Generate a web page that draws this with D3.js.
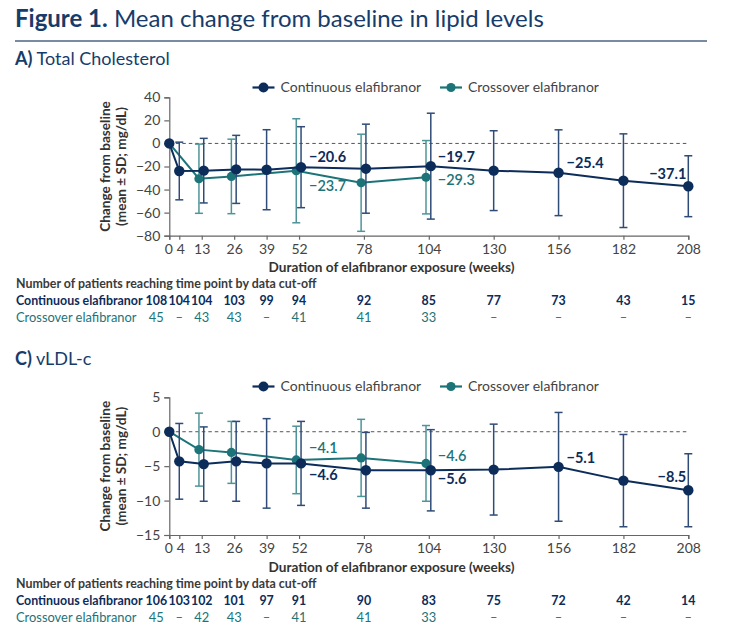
<!DOCTYPE html>
<html><head><meta charset="utf-8">
<script src="https://cdn.jsdelivr.net/npm/d3@7"></script>
<style>
body{margin:0;background:#fff;}
svg{font-family:Lato, "Open Sans", sans-serif;}
</style></head>
<body>
<svg id="c" width="733" height="633"></svg>
<script>
// ---------- DATA ----------
const weeks = [0,4,13,26,39,52,78,104,130,156,182,208];
const tickLabels = ["0","4","13","26","39","52","78","104","130","156","182","208"];

// A) Total cholesterol
const tcContWeeks = [0,4,13,26,39,52,78,104,130,156,182,208];
const tcContMean  = [0,-23.9,-23.6,-22.5,-22.8,-20.6,-21.9,-19.7,-23.6,-25.4,-32.3,-37.1];
const tcContSD    = [0,25.0,28.0,29.5,34.7,35.1,38.6,45.9,34.6,37.2,40.6,26.4];
const tcCrossWeeks = [0,13,26,52,78,104];
const tcCrossMean  = [0,-30.6,-28.6,-23.7,-34.1,-29.3];
const tcCrossSD    = [0,30.0,32.3,45.1,42.1,31.8];
const tcContN  = ["108","104","104","103","99","94","92","85","77","73","43","15"];
const tcCrossN = ["45","–","43","43","–","41","41","33","–","–","–","–"];

// C) vLDL-c
const vlContWeeks = [0,4,13,26,39,52,78,104,130,156,182,208];
const vlContMean  = [0,-4.3,-4.7,-4.3,-4.6,-4.6,-5.6,-5.6,-5.5,-5.1,-7.1,-8.5];
const vlContSD    = [0,5.5,5.4,5.8,6.5,6.1,5.5,5.9,6.6,7.9,6.7,5.3];
const vlCrossWeeks = [0,13,26,52,78,104];
const vlCrossMean  = [0,-2.6,-3.0,-4.1,-3.8,-4.6];
const vlCrossSD    = [0,5.3,4.5,4.9,5.6,5.5];
const vlContN  = ["106","103","102","101","97","91","90","83","75","72","42","14"];
const vlCrossN = ["45","–","42","43","–","41","41","33","–","–","–","–"];

const tcYTicks = [40,20,0,-20,-40,-60,-80];
const vlYTicks = [5,0,-5,-10,-15];

// annotations: [week, value, series]
const tcLabels = [[52,-20.6,"cont"],[52,-23.7,"cross"],[104,-19.7,"cont"],[104,-29.3,"cross"],[156,-25.4,"cont"],[208,-37.1,"cont"]];
const vlLabels = [[52,-4.1,"cross"],[52,-4.6,"cont"],[104,-4.6,"cross"],[104,-5.6,"cont"],[156,-5.1,"cont"],[208,-8.5,"cont"]];

// ---------- STYLE ----------
const NAVY = "#0c2c5a";
const NAVY_ERR = "#2f4c78";
const TEAL = "#1c7479";
const TEAL_ERR = "#4f9499";
const AXIS = "#666";
const TXT = "#444";

const svg = d3.select("#c");
const fmt = v => (v < 0 ? "\u2212" + Math.abs(v) : String(v));

// Title
const t = svg.append("text").attr("x",15).attr("y",27).attr("font-size",24).attr("fill","#173c6b");
t.append("tspan").attr("font-weight","bold").text("Figure 1.");
t.append("tspan").text(" Mean change from baseline in lipid levels");
svg.append("line").attr("x1",15).attr("x2",707).attr("y1",41).attr("y2",41).attr("stroke","#4a6585").attr("stroke-width",1.5);

const x = d3.scaleLinear().domain([0,208]).range([169.3,688.3]);

function panel(o){
  const y = d3.scaleLinear().domain(o.domain).range([o.y0,o.y1]);
  // heading
  const h = svg.append("text").attr("x",15).attr("y",o.headY).attr("font-size",18).attr("fill","#173c6b");
  h.append("tspan").attr("font-weight","bold").text(o.letter);
  h.append("tspan").text(" " + o.name);
  // legend
  const lg = svg.append("g").attr("transform",`translate(0,${o.legY})`);
  [[252.5,NAVY,"Continuous elafibranor",5],[440,TEAL,"Crossover elafibranor",4.6]].forEach(([lx,c,lab,r])=>{
    lg.append("line").attr("x1",lx).attr("x2",lx+22).attr("stroke",c).attr("stroke-width",2.2);
    lg.append("circle").attr("cx",lx+11).attr("r",r).attr("fill",c);
    lg.append("text").attr("x",lx+28).attr("dy","0.35em").attr("font-size",14).attr("fill",TXT).text(lab);
  });
  // axes
  const gy = svg.append("g").attr("transform",`translate(${x(0)},0)`)
    .call(d3.axisLeft(y).tickValues(o.yticks).tickSize(5).tickPadding(4).tickFormat(fmt));
  const gx = svg.append("g").attr("transform",`translate(0,${o.y0})`)
    .call(d3.axisBottom(x).tickValues(weeks).tickSize(4).tickPadding(4).tickFormat((d,i)=>tickLabels[i]));
  [gy,gx].forEach(g=>{
    g.select(".domain").attr("stroke",AXIS).attr("stroke-width",1.2);
    g.selectAll(".tick line").attr("stroke",AXIS).attr("stroke-width",1.2);
    g.selectAll("text").attr("font-size",14).attr("fill",TXT).attr("font-family","Lato");
  });
  gx.selectAll(".tick text").attr("dx",(d)=> d===0 ? -1 : (d===4 ? 1 : 0));
  // zero line
  svg.append("line").attr("x1",x(0)).attr("x2",x(208)).attr("y1",y(0)).attr("y2",y(0))
    .attr("stroke","#555").attr("stroke-dasharray","3.5,3").attr("stroke-width",1);
  // y label
  const yl = svg.append("text").attr("transform",`translate(0,${(o.y0+o.y1)/2}) rotate(-90)`)
    .attr("text-anchor","middle").attr("font-size",13.6).attr("font-weight","bold").attr("fill","#333");
  yl.append("tspan").attr("x",0).attr("y",110).text("Change from baseline");
  yl.append("tspan").attr("x",0).attr("y",125.5).text("(mean ± SD; mg/dL)");
  // x title
  svg.append("text").attr("x",391.5).attr("y",o.y0+36.5).attr("text-anchor","middle").attr("font-size",13.6)
    .attr("font-weight","bold").attr("fill","#333").text("Duration of elafibranor exposure (weeks)");

  // series
  const both = new Set(o.crossW);
  const series = [
    {w:o.crossW,m:o.crossM,s:o.crossS,c:TEAL,ce:TEAL_ERR,r:4.6,dx:-2.8},
    {w:o.contW,m:o.contM,s:o.contS,c:NAVY,ce:NAVY_ERR,r:5.2,dx:2}
  ];
  series.forEach(S=>{
    const pts = S.w.map((w,i)=>({w,m:S.m[i],s:S.s[i],px:x(w)+((w!==0 && w!==4 && both.has(w))?S.dx:0)}));
    const eb = svg.append("g");
    pts.filter(p=>p.s>0).forEach(p=>{
      eb.append("line").attr("x1",p.px).attr("x2",p.px).attr("y1",y(p.m+p.s)).attr("y2",y(p.m-p.s)).attr("stroke",S.ce).attr("stroke-width",1.5);
      [p.m+p.s,p.m-p.s].forEach(v=>eb.append("line").attr("x1",p.px-4).attr("x2",p.px+4).attr("y1",y(v)).attr("y2",y(v)).attr("stroke",S.ce).attr("stroke-width",1.5));
    });
    svg.append("path").datum(pts).attr("fill","none").attr("stroke",S.c).attr("stroke-width",2)
      .attr("d",d3.line().x(p=>p.px).y(p=>y(p.m)));
    svg.append("g").selectAll("circle").data(pts).join("circle")
      .attr("cx",p=>p.px).attr("cy",p=>y(p.m)).attr("r",S.r).attr("fill",S.c);
  });
  // value labels
  o.labels.forEach(([w,v,s],i)=>{
    const off = o.labOff[i];
    svg.append("text").attr("x",x(w)+off[0]).attr("y",y(v)+off[1])
      .attr("text-anchor", w===208 ? "end" : "start")
      .attr("font-size",14.5).attr("font-weight", s==="cont" ? "bold" : 600)
      .attr("fill", s==="cont" ? NAVY : TEAL).text(fmt(v));
  });

  // table
  const ty = o.tableY;
  const fs = 12.4;
  svg.append("text").attr("x",16).attr("y",ty).attr("font-size",fs).attr("font-weight","bold").attr("fill","#3a3a3a")
    .text("Number of patients reaching time point by data cut-off");
  svg.append("text").attr("x",16).attr("y",ty+17).attr("font-size",fs).attr("font-weight","bold").attr("fill",NAVY).text("Continuous elafibranor");
  svg.append("text").attr("x",16).attr("y",ty+34).attr("font-size",12.9).attr("fill",TEAL).text("Crossover elafibranor");
  const colX = w => w===0 ? x(0)-13 : x(w);
  weeks.forEach((w,i)=>{
    svg.append("text").attr("x",colX(w)).attr("y",ty+17).attr("text-anchor","middle").attr("font-size",fs)
      .attr("font-weight","bold").attr("fill",NAVY).text(o.contN[i]);
    svg.append("text").attr("x",colX(w)).attr("y",ty+34).attr("text-anchor","middle").attr("font-size",12.9)
      .attr("fill",TEAL).text(o.crossN[i]);
  });
}

panel({letter:"A)",name:"Total Cholesterol",headY:65,legY:87.5,y0:235.7,y1:97.3,domain:[-80,40],yticks:tcYTicks,
  contW:tcContWeeks,contM:tcContMean,contS:tcContSD,crossW:tcCrossWeeks,crossM:tcCrossMean,crossS:tcCrossSD,
  labels:tcLabels,labOff:[[10,-5.5],[10,20],[9,-4.5],[9,8],[8,-4.5],[-2,-7]],tableY:288,contN:tcContN,crossN:tcCrossN});

panel({letter:"C)",name:"vLDL-c",headY:365,legY:386.5,y0:535,y1:397.3,domain:[-15,5],yticks:vlYTicks,
  contW:vlContWeeks,contM:vlContMean,contS:vlContSD,crossW:vlCrossWeeks,crossM:vlCrossMean,crossS:vlCrossSD,
  labels:vlLabels,labOff:[[10,-7],[10,17],[9,-2],[9,14],[8,-3.5],[-2,-8.5]],tableY:588,contN:vlContN,crossN:vlCrossN});
</script>
</body></html>
